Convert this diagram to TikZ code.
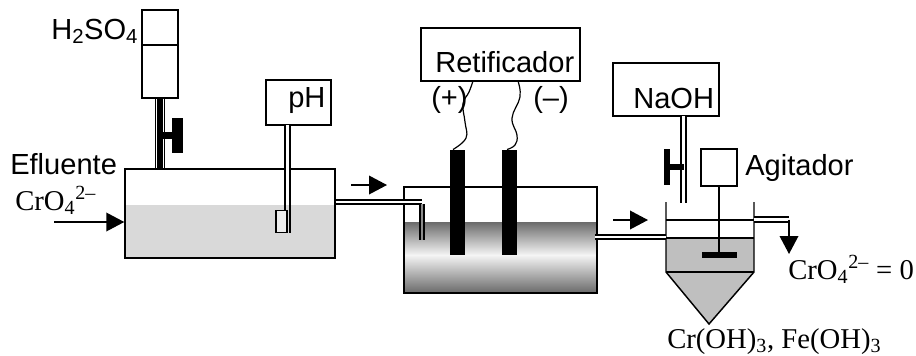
\documentclass[tikz,border=0pt]{standalone}
\usepackage{fontspec}
\setmainfont{Liberation Serif}
\newfontfamily\arialfont{Liberation Sans}
\usetikzlibrary{arrows.meta,shapes.geometric}
\tikzset{
  unit/.style={draw,line width=1.1pt,inner sep=0pt},
  solid box/.style={fill=black,inner sep=0pt},
  sanslabel/.style={font=\arialfont\fontsize{21.8}{24}\selectfont,inner sep=0pt,anchor=base west},
  seriflabel/.style={font=\fontsize{21.5}{24}\selectfont,inner sep=0pt,anchor=base west},
  pipe/.style={draw,line width=1.4pt,double,double distance=1.8pt},
  flow/.style={draw,line width=1.1pt,-{Triangle[length=13.5pt,width=14pt]}}
}
\begin{document}
\begin{tikzpicture}[x=0.75pt,y=-0.75pt]
  \useasboundingbox (0,0) rectangle (916,355);
  % first tank and acid feed
  \fill[gray!30] (125,205) rectangle (335,258);
  \node[unit,minimum width=157.5pt,minimum height=66.75pt] (tank1) at (230,213.5) {};
  \node[unit,minimum width=27pt,minimum height=66pt] (acid) at (160,54) {};
  \coordinate (acidtop) at (142,45);
  \draw[line width=1.1pt] (acidtop) -- (acidtop -| acid.east);
  \draw[pipe,line width=1.1pt,double distance=6pt] (acid.south) -- (acid.south |- tank1.north);
  \draw[line width=4pt] (acid.south) -- (acid.south |- tank1.north);
  \node[solid box,minimum width=8.25pt,minimum height=26.25pt] (valve1) at (177.5,135.5) {};
  \draw[line width=5.5pt] (valve1.west) -- (valve1.west -| acid.south);
  \node[sanslabel] (acidlabel) at (51,39) {H\textsubscript{2}SO\textsubscript{4}};
  \node[sanslabel] (efluente) at (10,174) {Efluente};
  \node[seriflabel] (cr1) at (15,210) {CrO\textsubscript{4}\textsuperscript{2--}};
  \coordinate (inlet) at (54,222);
  \draw[flow] (inlet) -- (inlet -| tank1.west);
  % pH probe
  \node[unit,minimum width=48.75pt,minimum height=33.75pt] (phbox) at (298.5,102.5) {};
  \node[sanslabel] (phlabel) at (288,107) {pH};
  \draw[pipe,double=gray!30] (287.5,125) coordinate (probetop) -- (287.5,233) coordinate (probeend);
  \draw[pipe] (probetop) -- (287.5,205);
  \node[unit,cylinder,shape border rotate=90,aspect=.35,minimum width=8.5pt,minimum height=16.5pt,fill=gray!15] (probe) at (281.5,222) {};
  % electrolytic cell
  \shade[top color=black!58,bottom color=black!4] (404,222) rectangle (597,255);
  \shade[top color=black!4,bottom color=black!58] (404,255) rectangle (597,292.5);
  \node[unit,minimum width=144.75pt,minimum height=79.5pt] (tank2) at (500.5,240) {};
  \node[solid box,minimum width=11.25pt,minimum height=78.75pt] (elec1) at (457.5,202.5) {};
  \node[solid box,minimum width=11.25pt,minimum height=78.75pt] (elec2) at (509.5,202.5) {};
  \node[unit,minimum width=119.25pt,minimum height=39.75pt] (rect) at (500.5,54.5) {};
  \node[sanslabel] (rectlabel) at (435,72) {Retificador};
  \node[sanslabel] (plus) at (431,107) {(+)};
  \node[sanslabel] (minus) at (533,107) {(–)};
  \draw[line width=.9pt] plot[smooth,tension=.7] coordinates {(473,81) (469,92) (463,104) (465,122) (466,138) (453,149.5)};
  \draw[line width=.9pt] plot[smooth,tension=.7] coordinates {(518,81) (520,97) (512,118) (517,135) (515,145) (507,149.5)};
  \coordinate (pipe1a) at (tank1.east |- 0,202);
  \draw[pipe] (pipe1a) -- (422,202);
  \draw[pipe,double=black!45] (422,204) -- (422,240);
  \coordinate (arrow2) at (351,185);
  \draw[flow] (arrow2) -- (387,185);
  % settling tank
  \fill[black!25] (666,238) -- (754,238) -- (754,272) -- (709,324) -- (666,272) -- cycle;
  \coordinate (wallA) at (666,202);
  \coordinate (wallB) at (754,202);
  \coordinate (coneL) at (666,272);
  \coordinate (coneR) at (754,272);
  \coordinate (apex) at (709,324);
  \draw[line width=1.1pt] (wallA) -- (coneL) -- (apex) -- (coneR) -- (wallB);
  \draw[line width=1.1pt] (coneL) -- (coneR);
  \draw[line width=1.1pt] (666,220) -- (754,220);
  \draw[line width=1.1pt] (666,238) -- (754,238);
  \draw[pipe] (595,237) -- (666,237);
  \coordinate (arrow3) at (613,220);
  \draw[flow] (arrow3) -- (648,220);
  \node[unit,minimum width=79.5pt,minimum height=39.75pt] (naoh) at (666,89.5) {};
  \node[sanslabel] (naohlabel) at (633,108) {NaOH};
  \draw[pipe] (683.5,116) coordinate (naohtop) -- (683.5,203) coordinate (naohend);
  \node[solid box,minimum width=4.5pt,minimum height=27pt] (valve2) at (667,167) {};
  \draw[line width=4pt] (valve2.east) -- (valve2.east -| naohtop);
  \node[unit,minimum width=27pt,minimum height=27.75pt] (agit) at (719,167.5) {};
  \node[sanslabel] (agitlabel) at (745,175) {Agitador};
  \node[solid box,minimum width=26.25pt,minimum height=4.5pt] (blade) at (719,255) {};
  \draw[line width=1.1pt] (agit.south) -- (blade.north);
  \draw[pipe] (754,219.5) -- (789,219.5) coordinate (outlet);
  \draw[flow] (outlet) -- (789,254);
  \node[seriflabel] (cr2) at (788,279) {CrO\textsubscript{4}\textsuperscript{2--} = 0};
  \node[seriflabel] (sludge) at (667,348) {Cr(OH)\textsubscript{3}, Fe(OH)\textsubscript{3}};
\end{tikzpicture}
\end{document}
